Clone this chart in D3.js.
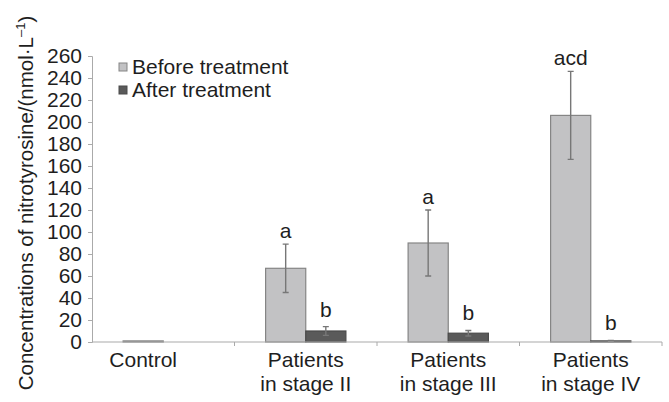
<!DOCTYPE html>
<html>
<head>
<meta charset="utf-8">
<script src="https://cdn.jsdelivr.net/npm/d3@7"></script>
<style>
  body { margin: 0; background: #fff; }
  svg { display: block; font-family: "Liberation Sans", Arial, Helvetica, sans-serif; }
</style>
</head>
<body>
<div id="vis"></div>
<script>
const WIDTH = 669;
const HEIGHT = 402;
const MARGINS = {left: 92, right: 7, top: 56, bottom: 60};

// data
const categories = ["Control", "Patients in stage II", "Patients in stage III", "Patients in stage IV"];
const labelLines = [["Control"], ["Patients", "in stage II"], ["Patients", "in stage III"], ["Patients", "in stage IV"]];
const series = ["Before treatment", "After treatment"];
const beforeValues = [1, 67, 90, 206];
const beforeErrors = [0, 22, 30, 40];
const afterValues = [0, 10, 8, 1];
const afterErrors = [0, 4, 2.5, 0.5];
const beforeMarks = ["", "a", "a", "acd"];
const afterMarks = ["", "b", "b", "b"];
const yTicks = d3.range(0, 261, 20);

const COLORS = {"Before treatment": "#c2c2c4", "After treatment": "#5a5a5a"};
const STROKES = {"Before treatment": "#858585", "After treatment": "#4a4a4a"};

const rows = [];
categories.forEach((c, i) => {
    rows.push({cat: c, s: series[0], v: beforeValues[i], e: beforeErrors[i], mark: beforeMarks[i]});
    rows.push({cat: c, s: series[1], v: afterValues[i], e: afterErrors[i], mark: afterMarks[i]});
});

const FRAME = d3.select("#vis")
    .append("svg")
    .attr("width", WIDTH)
    .attr("height", HEIGHT);

const X0 = d3.scaleBand()
    .domain(categories)
    .range([MARGINS.left, WIDTH - MARGINS.right]);

const X1 = d3.scaleBand()
    .domain(series)
    .range([0, X0.bandwidth()])
    .paddingOuter(0.775);

const Y = d3.scaleLinear()
    .domain([0, 260])
    .range([HEIGHT - MARGINS.bottom, MARGINS.top]);

// y axis
const yAxis = FRAME.append("g")
    .attr("transform", `translate(${MARGINS.left},0)`)
    .call(d3.axisLeft(Y).tickValues(yTicks).tickSize(4).tickPadding(6));
yAxis.select(".domain").attr("stroke", "#aaa");
yAxis.selectAll(".tick line").attr("stroke", "#aaa");
yAxis.selectAll(".tick text").attr("font-size", 21).attr("fill", "#1e1e1e");

// bars
FRAME.selectAll(".bar")
    .data(rows)
    .enter()
    .append("rect")
    .attr("class", "bar")
    .attr("x", d => X0(d.cat) + X1(d.s))
    .attr("y", d => Y(d.v))
    .attr("width", X1.bandwidth())
    .attr("height", d => Y(0) - Y(d.v))
    .attr("fill", d => COLORS[d.s])
    .attr("stroke", d => d.v > 0 ? STROKES[d.s] : "none")
    .attr("stroke-width", 1.2);

// error bars
const errRows = rows.filter(d => d.e > 0);
const cx = d => X0(d.cat) + X1(d.s) + X1.bandwidth() / 2;
FRAME.selectAll(".err")
    .data(errRows)
    .enter()
    .append("path")
    .attr("class", "err")
    .attr("d", d => {
        const x = cx(d), y1 = Y(d.v + d.e), y2 = Y(Math.max(0, d.v - d.e));
        return `M${x},${y1}V${y2}M${x - 3},${y1}H${x + 3}M${x - 3},${y2}H${x + 3}`;
    })
    .attr("fill", "none")
    .attr("stroke", "#777")
    .attr("stroke-width", 1.4);

// significance letters
FRAME.selectAll(".mark")
    .data(rows.filter(d => d.mark))
    .enter()
    .append("text")
    .attr("x", cx)
    .attr("y", d => Y(d.v + d.e) - (d.s === series[0] ? 6 : 10))
    .attr("text-anchor", "middle")
    .attr("font-size", 21)
    .attr("fill", "#1e1e1e")
    .text(d => d.mark);

// x axis
const xAxis = FRAME.append("g")
    .attr("transform", `translate(0,${Y(0)})`);
xAxis.append("line")
    .attr("x1", MARGINS.left).attr("x2", WIDTH - MARGINS.right)
    .attr("stroke", "#aaa").attr("stroke-width", 1.2);
xAxis.selectAll(".xtick")
    .data(categories.slice(1).concat(["end"]))
    .enter()
    .append("line")
    .attr("x1", d => d === "end" ? WIDTH - MARGINS.right : X0(d))
    .attr("x2", d => d === "end" ? WIDTH - MARGINS.right : X0(d))
    .attr("y1", 0).attr("y2", 4)
    .attr("stroke", "#aaa");

const labels = FRAME.selectAll(".xlabel")
    .data(categories)
    .enter()
    .append("text")
    .attr("class", "xlabel")
    .attr("text-anchor", "middle")
    .attr("font-size", 21)
    .attr("fill", "#1e1e1e");
labels.each(function(d, i) {
    const x = i === 0 ? X0(d) + X1(series[0]) + X1.bandwidth() / 2 : X0(d) + X0.bandwidth() / 2;
    d3.select(this).selectAll("tspan")
        .data(labelLines[i])
        .enter()
        .append("tspan")
        .attr("x", x)
        .attr("y", (l, j) => Y(0) + 25 + j * 24)
        .text(l => l);
});

// y title
const title = FRAME.append("text")
    .attr("transform", `translate(33,${(MARGINS.top + HEIGHT) / 2 - 26}) rotate(-90)`)
    .attr("text-anchor", "middle")
    .attr("font-size", 20.5)
    .attr("fill", "#1e1e1e");
title.append("tspan").text("Concentrations of nitrotyrosine/(nmol·L");
title.append("tspan").attr("font-size", 13).attr("dy", -8).text("–1");
title.append("tspan").attr("dy", 8).text(")");

// legend
const legend = FRAME.selectAll(".legend")
    .data(series)
    .enter()
    .append("g")
    .attr("transform", (d, i) => `translate(119,${63 + i * 23})`);
legend.append("rect")
    .attr("width", 8).attr("height", 8)
    .attr("fill", d => COLORS[d])
    .attr("stroke", d => STROKES[d]);
legend.append("text")
    .attr("x", 13).attr("y", 11)
    .attr("font-size", 21)
    .attr("fill", "#1e1e1e")
    .text(d => d);
</script>
</body>
</html>
